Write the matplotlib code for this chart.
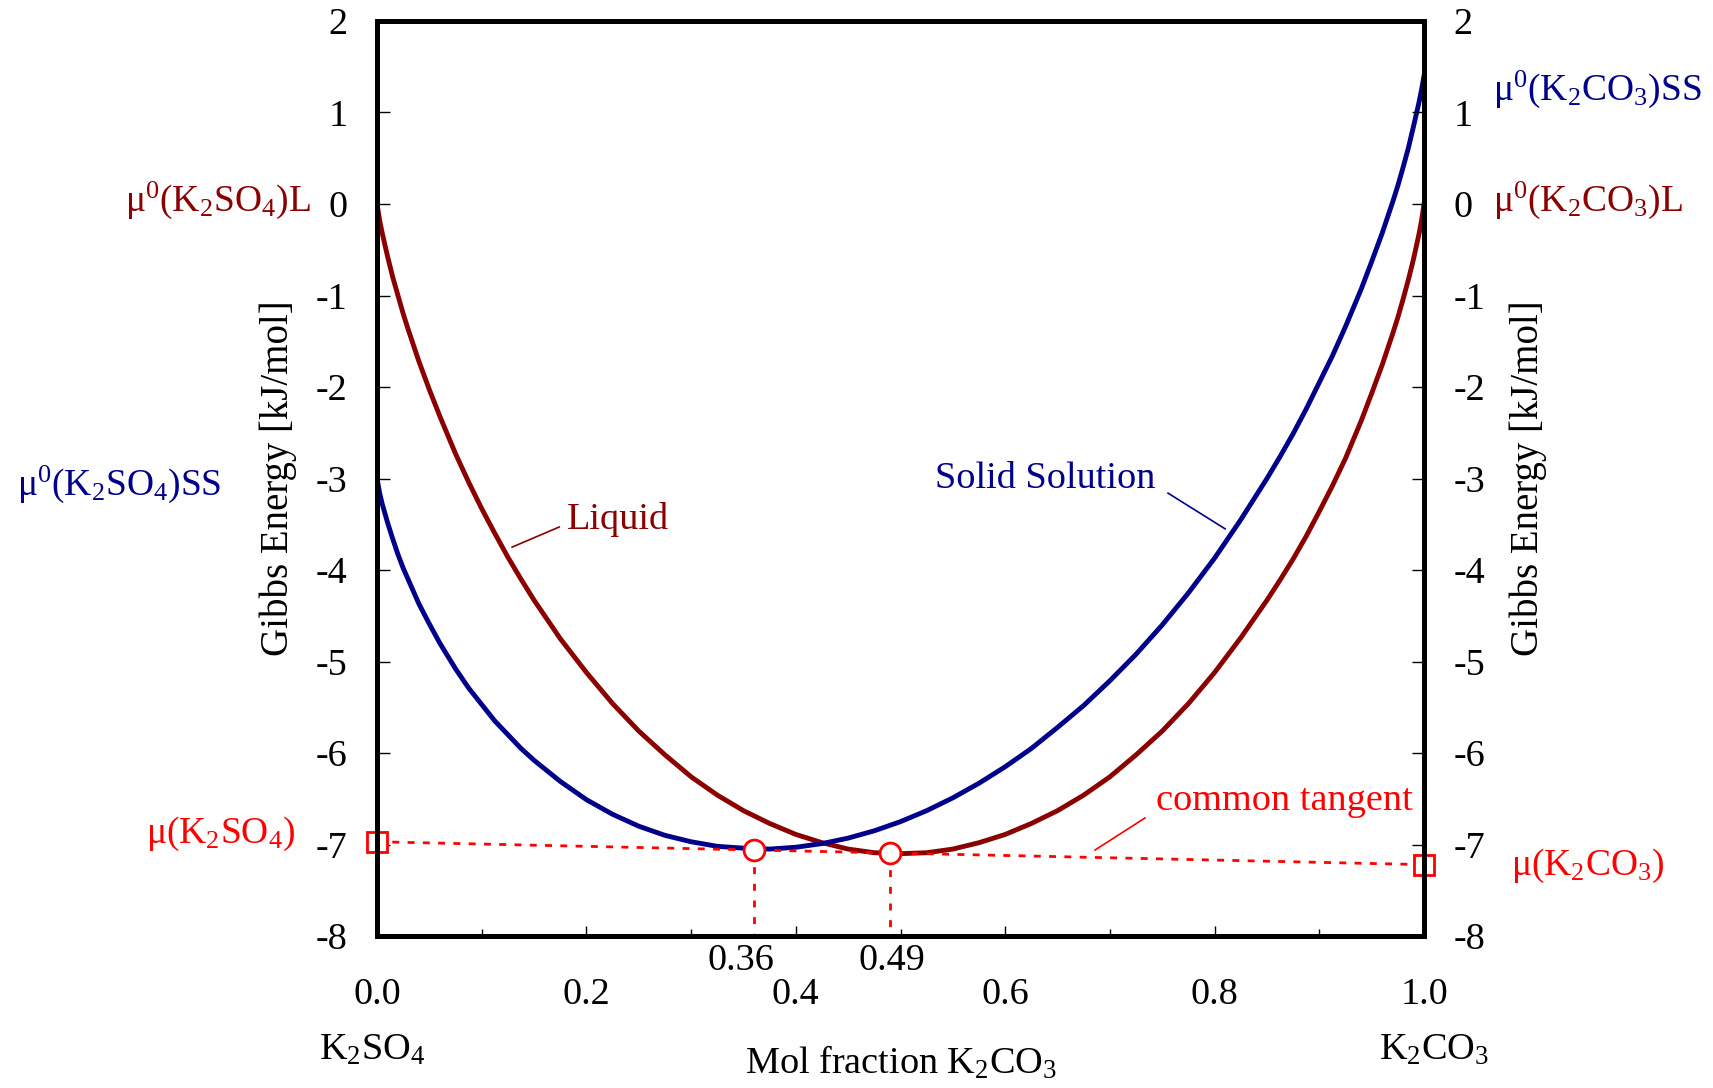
import matplotlib
matplotlib.use('Agg')
import matplotlib.pyplot as plt
from matplotlib.ticker import FixedLocator, MultipleLocator

plt.rcParams['font.family'] = ['Liberation Serif', 'DejaVu Serif']
plt.rcParams['mathtext.fontset'] = 'custom'
plt.rcParams['mathtext.rm'] = 'Liberation Serif'
plt.rcParams['mathtext.it'] = 'Liberation Serif:italic'
plt.rcParams['axes.unicode_minus'] = False

# mol fraction K2CO3 / Gibbs energy [kJ/mol]
x_liq = [0.0, 0.0025, 0.005, 0.01, 0.015, 0.02, 0.025, 0.03, 0.04, 0.05, 0.06, 0.075,
         0.0875, 0.1, 0.1125, 0.125, 0.1375, 0.15, 0.175, 0.2, 0.225, 0.25, 0.275, 0.3,
         0.325, 0.35, 0.375, 0.4, 0.425, 0.45, 0.475, 0.5, 0.525, 0.55, 0.575, 0.6,
         0.625, 0.65, 0.675, 0.7, 0.725, 0.75, 0.775, 0.8, 0.825, 0.85, 0.8625, 0.875,
         0.8875, 0.9, 0.9125, 0.925, 0.94, 0.95, 0.96, 0.97, 0.975, 0.98, 0.985, 0.99,
         0.995, 0.9975, 1.0]
g_liq = [0.0, -0.18, -0.32, -0.57, -0.80, -1.00, -1.20, -1.38, -1.72, -2.03, -2.32, -2.73,
         -3.04, -3.33, -3.60, -3.86, -4.10, -4.33, -4.75, -5.12, -5.46, -5.76, -6.02, -6.26,
         -6.46, -6.63, -6.77, -6.89, -6.98, -7.05, -7.09, -7.10, -7.09, -7.05, -6.98, -6.89,
         -6.77, -6.63, -6.46, -6.26, -6.02, -5.76, -5.46, -5.12, -4.74, -4.33, -4.11, -3.88,
         -3.63, -3.36, -3.08, -2.78, -2.37, -2.07, -1.76, -1.42, -1.24, -1.04, -0.83, -0.60,
         -0.34, -0.19, 0.0]

x_ss = [0.0, 0.0025, 0.005, 0.01, 0.015, 0.02, 0.025, 0.03, 0.04, 0.05, 0.06, 0.075,
        0.0875, 0.1, 0.1125, 0.125, 0.1375, 0.15, 0.175, 0.2, 0.225, 0.25, 0.275, 0.3,
        0.325, 0.35, 0.375, 0.4, 0.425, 0.45, 0.475, 0.5, 0.525, 0.55, 0.575, 0.6,
        0.625, 0.65, 0.675, 0.7, 0.725, 0.75, 0.775, 0.8, 0.825, 0.85, 0.8625, 0.875,
        0.8875, 0.9, 0.9125, 0.925, 0.94, 0.95, 0.96, 0.97, 0.975, 0.98, 0.985, 0.99,
        0.995, 0.9975, 1.0]
g_ss = [-3.00, -3.16, -3.28, -3.48, -3.66, -3.83, -3.98, -4.11, -4.37, -4.59, -4.80, -5.08,
        -5.29, -5.47, -5.65, -5.80, -5.95, -6.08, -6.31, -6.51, -6.67, -6.80, -6.90, -6.97,
        -7.02, -7.04, -7.05, -7.03, -6.99, -6.93, -6.85, -6.75, -6.63, -6.49, -6.33, -6.15,
        -5.95, -5.72, -5.48, -5.21, -4.92, -4.60, -4.25, -3.87, -3.45, -3.00, -2.76, -2.51,
        -2.24, -1.95, -1.66, -1.34, -0.93, -0.63, -0.32, 0.02, 0.20, 0.40, 0.61, 0.85,
        1.10, 1.24, 1.40]

# common tangent and the contact points
tangent_x = [0.0, 1.0]
tangent_g = [-6.97, -7.22]
contact_x = [0.36, 0.49]
contact_g = [-7.06, -7.09]
contact_labels = ['0.36', '0.49']

xticks = [0.0, 0.2, 0.4, 0.6, 0.8, 1.0]
xtick_labels = ['0.0', '0.2', '0.4', '0.6', '0.8', '1.0']
yticks = [2, 1, 0, -1, -2, -3, -4, -5, -6, -7, -8]
ytick_labels = [str(v) for v in yticks]

DRED = '#8B0000'
NAVY = '#00008B'
RED = '#FF0000'

fig = plt.figure(figsize=(17.13, 10.88), dpi=100)
ax = fig.add_axes([0.2201, 0.1397, 0.6112, 0.8410])
ax.set_xlim(0, 1)
ax.set_ylim(-8, 2)

ax.plot(x_liq, g_liq, color=DRED, lw=3.5, zorder=2, solid_joinstyle='round')
ax.plot(x_ss, g_ss, color=NAVY, lw=3.5, zorder=2, solid_joinstyle='round')

ax.plot(tangent_x, tangent_g, color=RED, lw=2, dashes=(2.5, 3), zorder=3)
for cx, cg in zip(contact_x, contact_g):
    ax.plot([cx, cx], [cg, -8], color=RED, lw=2, dashes=(2.5, 3.5), zorder=3)
ax.plot(contact_x, contact_g, 'o', ms=15, mfc='white', mec=RED, mew=2, zorder=5)
ax.plot(tangent_x, tangent_g, 's', ms=14, mfc='white', mec=RED, mew=2, zorder=5, clip_on=False)

for cx, lab in zip([0.348, 0.492], contact_labels):
    ax.text(cx, -8.37, lab, ha='center', va='baseline', fontsize=27.5)

# spines and ticks
for s in ax.spines.values():
    s.set_linewidth(3.6)
ax.xaxis.set_major_locator(FixedLocator(xticks))
ax.set_xticklabels(xtick_labels)
ax.xaxis.set_minor_locator(MultipleLocator(0.1))
ax.tick_params(axis='x', which='major', direction='in', length=7, width=1, labelsize=27.5, pad=30)
ax.tick_params(axis='x', which='minor', direction='in', length=5, width=1)
ax.set_yticks(yticks)
ax.set_yticklabels(ytick_labels)
ax.tick_params(axis='y', direction='in', length=9, width=1, labelsize=27.5, pad=21)

ax2 = ax.twinx()
ax2.set_ylim(-8, 2)
ax2.set_yticks(yticks)
ax2.set_yticklabels(ytick_labels)
ax2.tick_params(axis='y', direction='in', length=9, width=1, labelsize=27.5, pad=21)
for s in ax2.spines.values():
    s.set_linewidth(3.6)

ax.set_ylabel('Gibbs Energy [kJ/mol]', fontsize=28)
ax.yaxis.set_label_coords(-0.0945, 0.5)
ax.yaxis.label.set_va('center')
ax2.set_ylabel('Gibbs Energy [kJ/mol]', fontsize=28, rotation=90)
ax2.yaxis.set_label_coords(1.1, 0.5)
ax2.yaxis.label.set_va('center')

ax.set_xlabel('Mol fraction K$_{\\mathrm{2}}$CO$_{\\mathrm{3}}$', fontsize=27.5)
ax.xaxis.set_label_coords(0.5, -0.150)
ax.xaxis.label.set_va('baseline')
ax.text(-0.005, -0.1355, 'K$_{\\mathrm{2}}$SO$_{\\mathrm{4}}$', transform=ax.transAxes,
        ha='center', va='baseline', fontsize=27.5)
ax.text(1.01, -0.1355, 'K$_{\\mathrm{2}}$CO$_{\\mathrm{3}}$', transform=ax.transAxes,
        ha='center', va='baseline', fontsize=27.5)

# end-member and chemical potential labels
fs = 27
ax.text(-0.063, -0.08, 'μ$^{\\mathrm{0}}$(K$_{\\mathrm{2}}$SO$_{\\mathrm{4}}$)L', color=DRED,
        ha='right', va='baseline', fontsize=fs, clip_on=False)
ax.text(-0.149, -3.18, 'μ$^{\\mathrm{0}}$(K$_{\\mathrm{2}}$SO$_{\\mathrm{4}}$)SS', color=NAVY,
        ha='right', va='baseline', fontsize=fs, clip_on=False)
ax.text(-0.078, -6.98, 'μ(K$_{\\mathrm{2}}$SO$_{\\mathrm{4}}$)', color=RED,
        ha='right', va='baseline', fontsize=fs, clip_on=False)
ax.text(1.066, 1.14, 'μ$^{\\mathrm{0}}$(K$_{\\mathrm{2}}$CO$_{\\mathrm{3}}$)SS', color=NAVY,
        ha='left', va='baseline', fontsize=fs, clip_on=False)
ax.text(1.066, -0.08, 'μ$^{\\mathrm{0}}$(K$_{\\mathrm{2}}$CO$_{\\mathrm{3}}$)L', color=DRED,
        ha='left', va='baseline', fontsize=fs, clip_on=False)
ax.text(1.083, -7.33, 'μ(K$_{\\mathrm{2}}$CO$_{\\mathrm{3}}$)', color=RED,
        ha='left', va='baseline', fontsize=fs, clip_on=False)

# curve labels with leader lines
ax.text(0.181, -3.55, 'Liquid', color=DRED, ha='left', va='baseline', fontsize=27.5)
ax.plot([0.129, 0.174], [-3.75, -3.53], color=DRED, lw=1.2)
ax.text(0.533, -3.10, 'Solid Solution', color=NAVY, ha='left', va='baseline', fontsize=27.5)
ax.plot([0.7555, 0.810], [-3.16, -3.55], color=NAVY, lw=1.2)
ax.text(0.744, -6.62, 'common tangent', color=RED, ha='left', va='baseline', fontsize=27.5)
ax.plot([0.7335, 0.6858], [-6.71, -7.06], color=RED, lw=1.2)

fig.savefig('out.png', dpi=100)
